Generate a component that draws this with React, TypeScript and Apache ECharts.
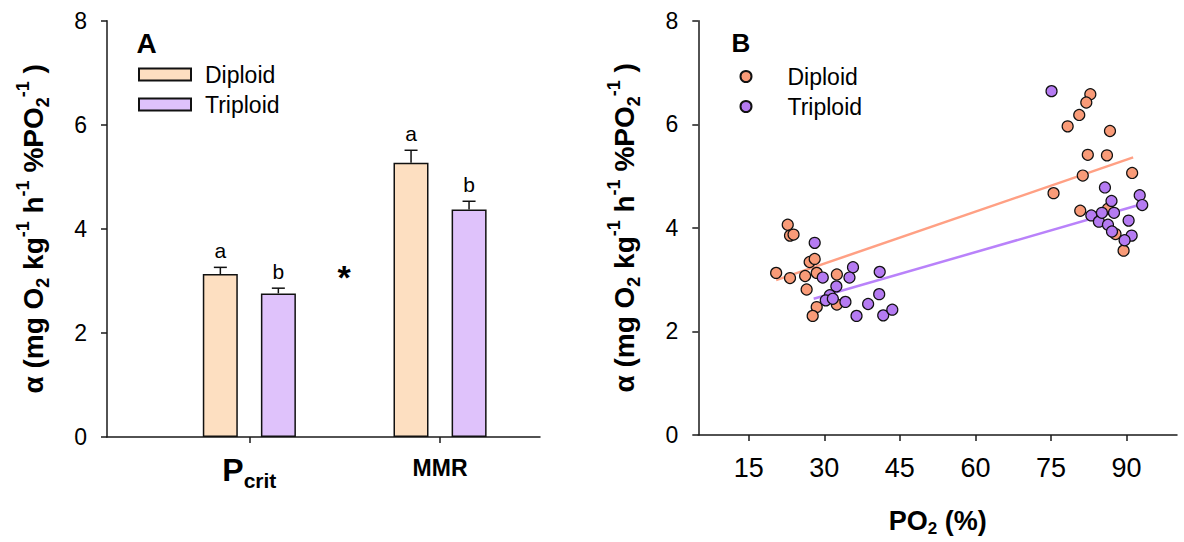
import React, { useEffect, useRef } from "react";
import * as echarts from "echarts";

// ---------- Data ----------
const categories = ["Pcrit", "MMR"];
const diploidMean = [3.13, 5.27];
const diploidSE = [0.13, 0.24];
const triploidMean = [2.76, 4.37];
const triploidSE = [0.1, 0.16];
const diploidLetters = ["a", "a"];
const triploidLetters = ["b", "b"];

const yTicksMax = 8;
const xTicksB = [15, 30, 45, 60, 75, 90];

const diploidPoints = [
  [22.75, 4.06], [23.2, 3.85], [23.9, 3.87], [20.45, 3.13], [23.2, 3.03],
  [26.2, 3.07], [27.1, 3.34], [28.1, 3.4], [28.5, 3.13], [26.5, 2.81],
  [28.5, 2.47], [27.7, 2.3], [32.5, 3.1], [32.5, 2.52],
  [82.8, 6.58], [82.0, 6.42], [80.6, 6.18], [78.3, 5.96], [86.7, 5.87],
  [82.3, 5.41], [86.1, 5.4], [81.3, 5.01], [91.1, 5.06], [75.5, 4.67],
  [80.8, 4.33], [86.3, 4.37], [87.8, 3.88], [89.4, 3.56],
];
const triploidPoints = [
  [28.1, 3.71], [29.7, 3.04], [35.7, 3.24], [35.0, 3.04], [41.0, 3.15],
  [32.4, 2.87], [31.1, 2.7], [30.3, 2.6], [31.7, 2.63], [34.2, 2.57],
  [38.7, 2.53], [40.9, 2.72], [36.4, 2.3], [41.7, 2.31], [43.5, 2.42],
  [75.1, 6.64], [85.7, 4.78], [87.0, 4.52], [92.6, 4.63], [93.1, 4.44],
  [83.0, 4.24], [84.5, 4.12], [85.1, 4.29], [87.5, 4.29], [86.3, 4.06],
  [90.4, 4.14], [87.1, 3.93], [91.0, 3.85], [89.6, 3.76],
];
const diploidFit = [[20.45, 2.99], [91.3, 5.36]];
const triploidFit = [[27.9, 2.63], [92.4, 4.44]];

// ---------- Styles ----------
const FONT = "'Liberation Sans', Arial, Helvetica, sans-serif";
const AXIS_COLOR = "#1a1a1a";
const BAR_D = "#FDDFC1";
const BAR_T = "#DFC2FB";
const PT_D = "#F99B78";
const PT_T = "#B57BF2";
const LN_D = "#FFA084";
const LN_T = "#B982FA";

const GRID_TOP = 20.7;
const GRID_H = 416.3;

const yName =
  "{m|α (mg O}{s|2}{m| kg}{u|-1}{m| h}{u|-1}{m| %PO}{s|2}{u|-1}{m| )}";
const yNameRich = {
  m: { fontSize: 28, fontWeight: "bold", fontFamily: FONT, color: "#000", lineHeight: 38, verticalAlign: "middle" },
  s: { fontSize: 18, fontWeight: "bold", fontFamily: FONT, color: "#000", lineHeight: 17, verticalAlign: "bottom" },
  u: { fontSize: 18, fontWeight: "bold", fontFamily: FONT, color: "#000", lineHeight: 17, verticalAlign: "top" },
};

function valueYAxis(gridIndex: number, show: boolean) {
  return {
    type: "value",
    gridIndex,
    min: 0,
    max: yTicksMax,
    interval: 2,
    show,
    name: show ? yName : "",
    nameLocation: "middle",
    nameRotate: 90,
    nameGap: 55,
    nameTextStyle: { rich: yNameRich },
    axisLine: { show: true, lineStyle: { color: AXIS_COLOR, width: 1.5 } },
    axisTick: { show: true, length: 6, lineStyle: { color: AXIS_COLOR, width: 1.5 } },
    axisLabel: { fontSize: 23, color: "#000", fontFamily: FONT, margin: 20 },
    splitLine: { show: false },
  };
}

function errorSeries(name: string, means: number[], ses: number[], letters: string[], offset: number) {
  return {
    type: "custom",
    name,
    xAxisIndex: 1,
    yAxisIndex: 1,
    z: 5,
    data: means.map((m, i) => [i, m, ses[i]]),
    renderItem: (params: any, api: any) => {
      const ci = api.value(0);
      const mean = api.value(1);
      const se = api.value(2);
      const base = api.coord([ci, mean]);
      const top = api.coord([ci, mean + se]);
      const x = base[0] + offset;
      const st = { stroke: "#111", lineWidth: 1.5 };
      return {
        type: "group",
        children: [
          { type: "line", shape: { x1: x, y1: base[1], x2: x, y2: top[1] }, style: st },
          { type: "line", shape: { x1: x - 6.5, y1: top[1], x2: x + 6.5, y2: top[1] }, style: st },
          {
            type: "text",
            x,
            y: top[1] - 6,
            style: {
              text: letters[params.dataIndex],
              fontSize: 21,
              fontFamily: FONT,
              fill: "#000",
              align: "center",
              verticalAlign: "bottom",
            },
          },
        ],
      };
    },
  };
}

export default function App() {
  const ref = useRef<HTMLDivElement>(null);

  useEffect(() => {
    if (!ref.current) return;
    const chart = echarts.init(ref.current, undefined, { renderer: "svg" });

    const option: any = {
      animation: false,
      backgroundColor: "#ffffff",
      textStyle: { fontFamily: FONT },
      grid: [
        { left: 107, top: GRID_TOP, width: 433, height: GRID_H },
        { left: 154, top: GRID_TOP, width: 381.4, height: GRID_H },
        { left: 698.3, top: GRID_TOP, width: 478.7, height: GRID_H },
      ],
      xAxis: [
        {
          type: "value",
          gridIndex: 0,
          min: 0,
          max: 1,
          axisLine: { show: true, lineStyle: { color: AXIS_COLOR, width: 1.5 } },
          axisTick: { show: false },
          axisLabel: { show: false },
          splitLine: { show: false },
        },
        {
          type: "category",
          gridIndex: 1,
          data: categories,
          axisLine: { show: false },
          axisTick: { show: true, alignWithLabel: true, length: 6, lineStyle: { color: AXIS_COLOR, width: 1.5 } },
          axisLabel: {
            margin: 12,
            color: "#000",
            formatter: (v: string) => (v === "Pcrit" ? "{p|P}{c|crit}" : "{r|MMR}"),
            rich: {
              p: { fontSize: 32, fontWeight: "bold", fontFamily: FONT, color: "#000", lineHeight: 42, verticalAlign: "middle" },
              c: { fontSize: 21, fontWeight: "bold", fontFamily: FONT, color: "#000", lineHeight: 17, verticalAlign: "bottom" },
              r: { fontSize: 23, fontWeight: "bold", fontFamily: FONT, color: "#000", lineHeight: 38, verticalAlign: "middle" },
            },
          },
          splitLine: { show: false },
        },
        {
          type: "value",
          gridIndex: 2,
          min: 5,
          max: 100,
          name: "{m|PO}{s|2}{m| (%)}",
          nameLocation: "middle",
          nameGap: 70,
          nameTextStyle: {
            rich: {
              m: { fontSize: 27, fontWeight: "bold", fontFamily: FONT, color: "#000", lineHeight: 32, verticalAlign: "middle" },
              s: { fontSize: 17, fontWeight: "bold", fontFamily: FONT, color: "#000", lineHeight: 15, verticalAlign: "bottom" },
            },
          },
          axisLine: { show: true, lineStyle: { color: AXIS_COLOR, width: 1.5 } },
          axisTick: { show: true, length: 6, customValues: xTicksB, lineStyle: { color: AXIS_COLOR, width: 1.5 } },
          axisLabel: { customValues: xTicksB, fontSize: 27, color: "#000", fontFamily: FONT, margin: 19 },
          splitLine: { show: false },
        },
      ],
      yAxis: [valueYAxis(0, true), valueYAxis(1, false), valueYAxis(2, true)],
      legend: [
        {
          left: 133,
          top: 58,
          orient: "vertical",
          itemWidth: 52,
          itemHeight: 12,
          itemGap: 7,
          icon: "rect",
          selectedMode: false,
          data: ["Diploid", "Triploid"],
          textStyle: { fontSize: 23, color: "#000", fontFamily: FONT, padding: [0, 0, 0, 9] },
        },
        {
          left: 734.5,
          top: 60,
          orient: "vertical",
          itemWidth: 11,
          itemHeight: 11,
          itemGap: 7,
          icon: "circle",
          selectedMode: false,
          data: ["Diploid B", "Triploid B"],
          formatter: (n: string) => n.replace(" B", ""),
          textStyle: { fontSize: 23, color: "#000", fontFamily: FONT, padding: [0, 0, 0, 31] },
        },
      ],
      series: [
        {
          type: "bar",
          name: "Diploid",
          xAxisIndex: 1,
          yAxisIndex: 1,
          barWidth: 35,
          barGap: "66%",
          data: diploidMean,
          itemStyle: { color: BAR_D, borderColor: "#111", borderWidth: 1.5 },
        },
        {
          type: "bar",
          name: "Triploid",
          xAxisIndex: 1,
          yAxisIndex: 1,
          barWidth: 35,
          barGap: "66%",
          data: triploidMean,
          itemStyle: { color: BAR_T, borderColor: "#111", borderWidth: 1.5 },
        },
        errorSeries("Diploid SE", diploidMean, diploidSE, diploidLetters, -29),
        errorSeries("Triploid SE", triploidMean, triploidSE, triploidLetters, 29),
        {
          type: "line",
          name: "Diploid fit",
          xAxisIndex: 2,
          yAxisIndex: 2,
          data: diploidFit,
          showSymbol: false,
          lineStyle: { color: LN_D, width: 2.5 },
          z: 2,
        },
        {
          type: "line",
          name: "Triploid fit",
          xAxisIndex: 2,
          yAxisIndex: 2,
          data: triploidFit,
          showSymbol: false,
          lineStyle: { color: LN_T, width: 2.5 },
          z: 2,
        },
        {
          type: "scatter",
          name: "Diploid B",
          xAxisIndex: 2,
          yAxisIndex: 2,
          data: diploidPoints,
          symbol: "circle",
          symbolSize: 11,
          itemStyle: { color: PT_D, borderColor: "#111", borderWidth: 1.2, opacity: 1 },
          z: 3,
        },
        {
          type: "scatter",
          name: "Triploid B",
          xAxisIndex: 2,
          yAxisIndex: 2,
          data: triploidPoints,
          symbol: "circle",
          symbolSize: 11,
          itemStyle: { color: PT_T, borderColor: "#111", borderWidth: 1.2, opacity: 1 },
          z: 4,
        },
      ],
      graphic: [
        {
          type: "text",
          x: 146.7,
          y: 43,
          style: { text: "A", fontSize: 28, fontWeight: "bold", fontFamily: FONT, fill: "#000", align: "center", verticalAlign: "middle" },
        },
        {
          type: "text",
          x: 740.8,
          y: 43,
          style: { text: "B", fontSize: 26, fontWeight: "bold", fontFamily: FONT, fill: "#000", align: "center", verticalAlign: "middle" },
        },
        {
          type: "text",
          x: 344,
          y: 277,
          style: { text: "*", fontSize: 34, fontWeight: "bold", fontFamily: FONT, fill: "#000", align: "center", verticalAlign: "middle" },
        },
      ],
    };

    chart.setOption(option);
    return () => chart.dispose();
  }, []);

  return (
    <div
      ref={ref}
      style={{ position: "fixed", left: 0, top: 0, width: 1184, height: 542, background: "#fff" }}
    />
  );
}
